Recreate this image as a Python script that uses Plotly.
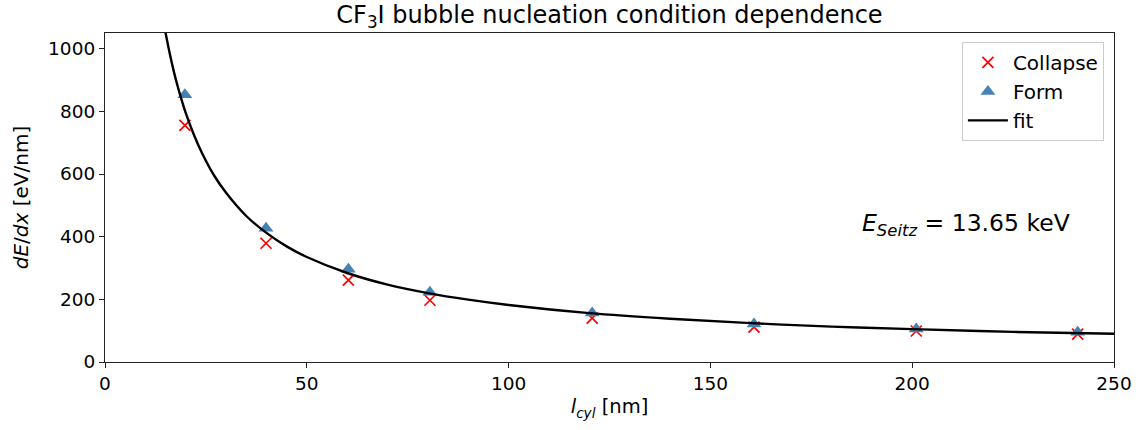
import plotly.graph_objects as go

# Measured data
l_cyl = [19.8, 39.9, 60.3, 80.5, 120.7, 160.8, 201.0, 241.0]
collapse = [755, 379, 261, 197, 140, 111, 99, 89]
form = [853, 427, 296, 223, 156, 121, 105, 95]

# Fit curve
fit_x = [15, 16, 17, 18, 19, 20, 22, 24, 27, 30, 35, 40, 45, 50, 60, 70, 80, 90,
         100, 120, 140, 160, 180, 200, 225, 250]
fit_y = [1051, 987, 930, 880, 836, 795, 726, 668, 596, 540, 466, 412, 369, 335, 284,
         247, 220, 199, 182, 156, 138, 124, 113, 105, 96, 90]

x_ticks = [0, 50, 100, 150, 200, 250]
y_ticks = [0, 200, 400, 600, 800, 1000]

FONT = "DejaVu Sans"

fig = go.Figure()
fig.add_trace(go.Scatter(
    x=l_cyl, y=collapse, mode="markers", name="Collapse",
    marker=dict(symbol="x-thin", size=11, line=dict(color="red", width=1.7), color="red"),
))
fig.add_trace(go.Scatter(
    x=l_cyl, y=form, mode="markers", name="Form",
    marker=dict(symbol="triangle-up", size=13, color="#4682B4"),
))
fig.add_trace(go.Scatter(
    x=fit_x, y=fit_y, mode="lines", name="fit", line=dict(color="black", width=2.4, shape="spline"),
))

axis_common = dict(
    showline=True, linecolor="#222", linewidth=1.2, mirror=True,
    ticks="outside", ticklen=5, tickwidth=1.2, tickcolor="#222",
    showgrid=False, zeroline=False,
    tickfont=dict(family=FONT, size=18.5, color="black"),
)

fig.update_layout(
    width=1144, height=430,
    margin=dict(l=105, r=30, t=33, b=68),
    paper_bgcolor="white", plot_bgcolor="white",
    font=dict(family=FONT, color="black"),
    title=dict(text="CF<sub>3</sub>I bubble nucleation condition dependence",
               x=(105 + 1114) / 2 / 1144, xanchor="center", y=0.967, yanchor="middle",
               font=dict(family=FONT, size=24, color="black")),
    xaxis=dict(range=[0, 250], tickvals=x_ticks,
               title=dict(text="<i>l</i><sub><i>cyl</i></sub> [nm]", font=dict(family=FONT, size=19.5),
                          standoff=6),
               **axis_common),
    yaxis=dict(range=[0, 1050], tickvals=y_ticks,
               title=dict(text="<i>dE</i>/<i>dx</i> [eV/nm]", font=dict(family=FONT, size=20),
                          standoff=14),
               **axis_common),
    legend=dict(x=0.990, y=0.973, xanchor="right", yanchor="top",
                bordercolor="#cccccc", borderwidth=1, bgcolor="white",
                font=dict(family=FONT, size=20), itemwidth=40, tracegroupgap=0),
    showlegend=True,
)

fig.add_annotation(
    x=187, y=439, xref="x", yref="y", xanchor="left", yanchor="middle",
    text="<i>E</i><sub><i>Seitz</i></sub> = 13.65 keV", showarrow=False,
    font=dict(family=FONT, size=23.5, color="black"),
)

fig.write_html("out.html")
